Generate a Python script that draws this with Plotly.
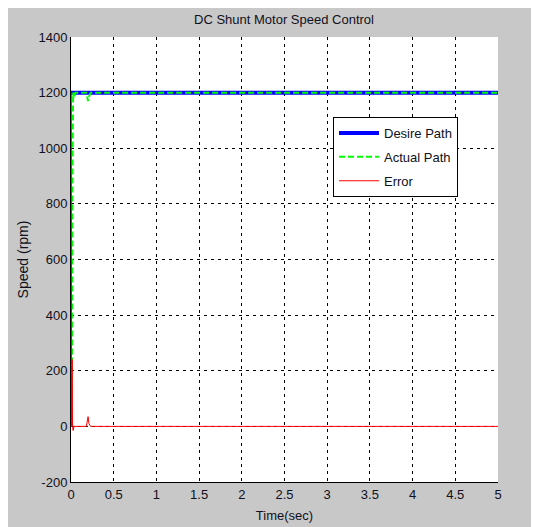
import plotly.graph_objects as go

# Data
t_desired = [0, 5]
desired = [1200, 1200]

t_actual = [0, 0.008, 0.012, 0.016, 0.02, 0.025, 0.032, 0.05, 0.18, 0.2, 0.21, 0.23, 5]
actual = [0, 120, 240, 850, 1150, 1200, 1180, 1200, 1200, 1170, 1185, 1200, 1200]

t_error = [0.004, 0.005, 0.007, 0.01, 0.014, 0.018, 0.025, 0.035, 0.05, 0.18, 0.2, 0.21, 0.23, 5]
error = [1200, 800, 0, 240, 240, 0, -15, 0, 0, 0, 35, 10, 0, 0]

x_ticks = [0, 0.5, 1, 1.5, 2, 2.5, 3, 3.5, 4, 4.5, 5]
y_ticks = [-200, 0, 200, 400, 600, 800, 1000, 1200, 1400]

FONT = "Liberation Sans, Arial, sans-serif"
GRAY = "#c8c8c8"
TXT = "#101020"

fig = go.Figure()
fig.add_trace(go.Scatter(x=t_desired, y=desired, mode="lines", name="Desire Path",
                         legendgroup="a", line=dict(color="#0000ff", width=4)))
fig.add_trace(go.Scatter(x=t_actual, y=actual, mode="lines", name="Actual Path",
                         legendgroup="b", line=dict(color="#00ff00", width=2, dash="6px,3px")))
fig.add_trace(go.Scatter(x=t_error, y=error, mode="lines", name="Error",
                         legendgroup="c", line=dict(color="#ff0000", width=1)))

axis_common = dict(showline=True, linecolor="black", linewidth=1, mirror=False,
                   showgrid=True, gridcolor="black", gridwidth=1, griddash="3px,4px",
                   zeroline=False, ticks="", layer="below traces", automargin=False,
                   tickfont=dict(family=FONT, size=13, color=TXT))

fig.update_xaxes(range=[0, 5], tickvals=x_ticks, ticktext=[str(v) for v in x_ticks],
                 title=dict(text="Time(sec)", font=dict(family=FONT, size=13, color=TXT), standoff=10),
                 **axis_common)
fig.update_yaxes(range=[-200, 1400], tickvals=y_ticks, ticktext=[str(v) for v in y_ticks],
                 title=dict(text="Speed (rpm)", font=dict(family=FONT, size=14, color=TXT), standoff=6),
                 **axis_common)

# The page body adds an 8px offset, so margins are measured from there
fig.update_layout(
    width=539, height=527,
    margin=dict(l=63, r=49, t=29, b=53, autoexpand=False),
    paper_bgcolor=GRAY,
    plot_bgcolor="white",
    showlegend=True,
    title=dict(text="DC Shunt Motor Speed Control", x=(284 - 8) / 539, xanchor="center",
               y=1 - 11 / 527, yanchor="middle",
               font=dict(family=FONT, size=13, color=TXT)),
    legend=dict(x=(333 - 71) / 427, y=(482 - 117) / 445, xanchor="left", yanchor="top",
                bgcolor="white", bordercolor="black", borderwidth=1,
                font=dict(family=FONT, size=13, color=TXT),
                itemwidth=40, tracegroupgap=4),
)

fig.write_html("out.html")
